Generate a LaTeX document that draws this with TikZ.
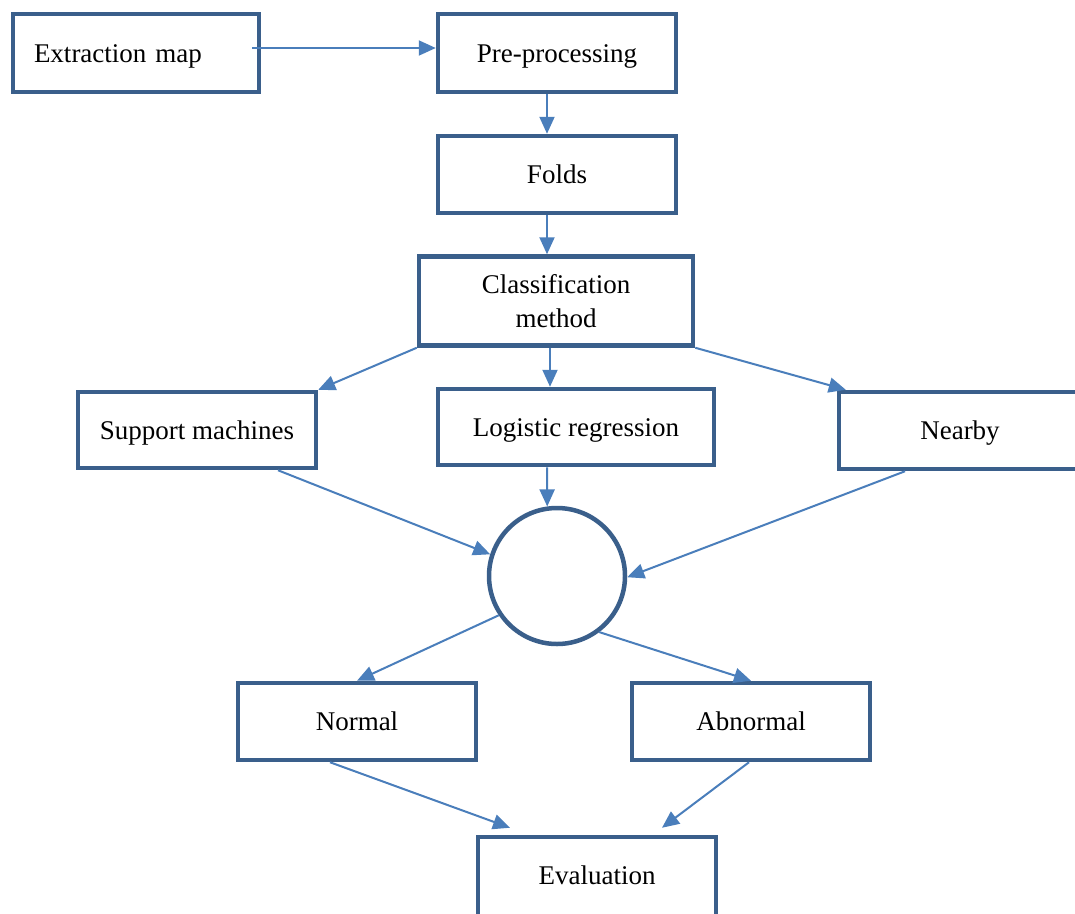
\documentclass[tikz,border=0pt]{standalone}
\usepackage{fontspec}
\setmainfont{Liberation Serif}
\usetikzlibrary{arrows.meta,calc}
\definecolor{boxc}{RGB}{58,95,139}
\definecolor{arrc}{RGB}{74,126,187}
\begin{document}
\begin{tikzpicture}[x=1pt,y=-1pt,
  box/.style={draw=boxc, line width=4.5pt, fill=white, minimum width=238pt, minimum height=77pt, inner sep=0pt, align=center, font=\fontsize{27}{34}\selectfont},
  oneline/.style={box, text height=22pt, text depth=4pt},
  circ/.style={draw=boxc, line width=4.5pt, fill=white, circle, minimum size=136pt, inner sep=0pt},
  arr/.style={draw=arrc, line width=2pt, -{Triangle[length=17pt,width=15pt]}}]
\useasboundingbox (0,0) rectangle (1075,913);
\clip (0,0) rectangle (1075,913);
% boxes
\node[oneline, minimum width=246pt, minimum height=78pt, text width=204pt, align=left] (ext) at (136,53) {Extraction map};
\node[oneline, minimum height=78pt] (pre) at (557,53) {Pre-processing};
\node[oneline] (folds) at (557,174.5) {Folds};
\node[box, minimum width=274pt, minimum height=89pt] (class) at (556,301) {Classification\\method};
\node[oneline, minimum height=76pt] (supp) at (197,430) {Support machines};
\node[oneline, minimum width=276pt, minimum height=76pt] (logi) at (576,427) {Logistic regression};
\node[oneline, minimum width=250pt, text width=242pt] (near) at (964,430.5) {\hspace*{-8pt}Nearby};
\node[circ] (mid) at (557,576) {};
\node[oneline] (norm) at (357,721.5) {Normal};
\node[oneline] (abn) at (751,721.5) {Abnormal};
\node[box, minimum height=96pt, text height=22pt, text depth=24pt] (eval) at (597,885) {Evaluation};
% connectors
\draw[arr] ($(ext.east)+(-9,-5)$) coordinate (s1) -- (s1 -| pre.west);
\draw[arr] ($(pre.south)+(-10,0)$) -- ($(folds.north)+(-10,0)$);
\draw[arr] ($(folds.south)+(-10,0)$) -- ($(class.north)+(-9,0)$);
\draw[arr] (class.south west) -- (supp.north east);
\draw[arr] ($(class.south)+(-6,0)$) coordinate (s5) -- (s5 |- logi.north);
\draw[arr] (class.south east) -- ($(near.north west)+(9,0)$);
\draw[arr] ($(supp.south)+(81,0)$) -- (mid.162);
\draw[arr] ($(logi.south)+(-29,0)$) -- (mid.98);
\draw[arr] ($(near.south)+(-59,0)$) -- (mid.-1);
\draw[arr] (mid.214) -- (norm.north);
\draw[arr] (mid.307) -- (abn.north);
\draw[arr] ($(norm.south)+(-27,0)$) -- ($(eval.north)+(-87,-7)$);
\draw[arr] ($(abn.south)+(-2,0)$) -- ($(eval.north)+(65,-7)$);
\end{tikzpicture}
\end{document}
